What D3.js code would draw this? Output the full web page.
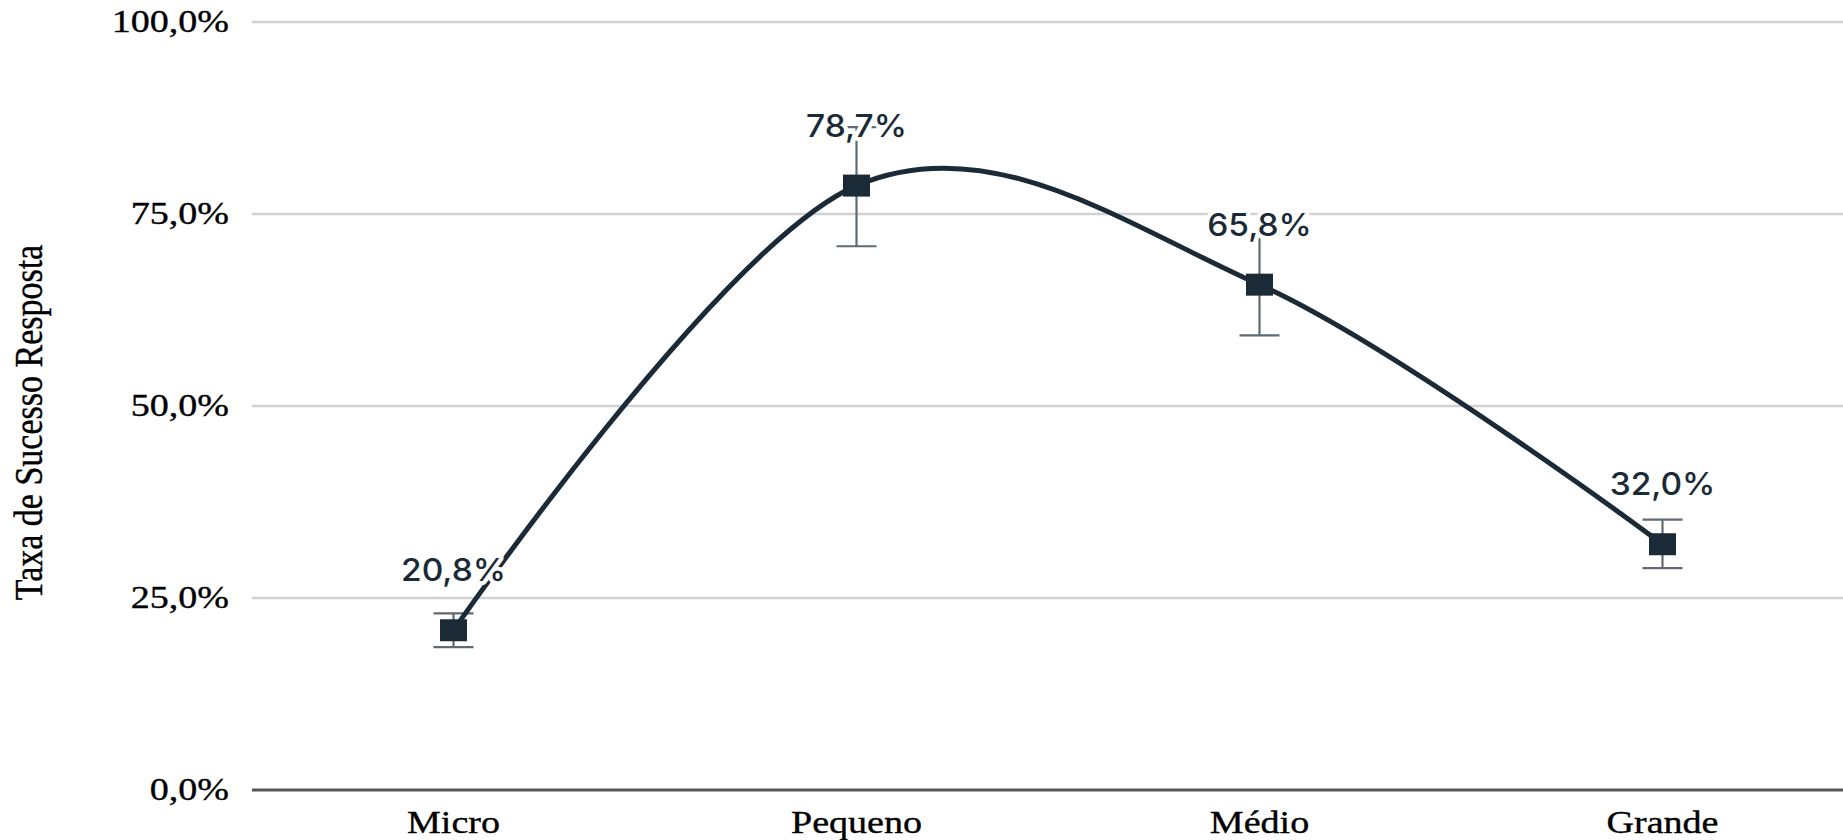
<!DOCTYPE html>
<html lang="pt">
<head>
  <meta charset="UTF-8">
  <title>Taxa de Sucesso Resposta</title>
  <script src="https://cdn.jsdelivr.net/npm/d3@7"></script>
  <style>
    html, body {
      margin: 0;
      padding: 0;
      background: #fff;
    }
    svg {
      display: block;
    }
    .serif {
      font-family: "Liberation Serif", serif;
      fill: #000;
      stroke: #000;
      stroke-width: 0.35px;
    }
  </style>
</head>
<body>
<svg id="chart"></svg>
<script>
  // dados
  const categories = ['Micro', 'Pequeno', 'Médio', 'Grande'];
  const values = [0.208, 0.787, 0.658, 0.320];
  const errLow = [0.186, 0.708, 0.592, 0.289];
  const errHigh = [0.230, 0.863, 0.724, 0.352];
  const yTicks = [0, 0.25, 0.5, 0.75, 1];

  const width = 1843, height = 840;
  const plotLeft = 252, plotRight = 1864, plotTop = 22, plotBottom = 790;
  const stretch = 1.19; // o original está esticado na horizontal

  const svg = d3.select('#chart')
    .attr('width', width)
    .attr('height', height);

  const x = d3.scalePoint()
    .domain(categories)
    .range([plotLeft, plotRight])
    .padding(0.5);

  const y = d3.scaleLinear()
    .domain([0, 1])
    .range([plotBottom, plotTop]);

  const fmt = v => d3.format('.1f')(v * 100).replace('.', ',') + '%';

  const data = categories.map((c, i) => ({
    cat: c, v: values[i], lo: errLow[i], hi: errHigh[i]
  }));

  // grade
  svg.append('g')
    .selectAll('line')
    .data(yTicks.filter(d => d > 0))
    .join('line')
    .attr('x1', plotLeft)
    .attr('x2', width)
    .attr('y1', d => y(d))
    .attr('y2', d => y(d))
    .attr('stroke', '#d2d2d2')
    .attr('stroke-width', 2.5);

  svg.append('line')
    .attr('x1', plotLeft)
    .attr('x2', width)
    .attr('y1', y(0))
    .attr('y2', y(0))
    .attr('stroke', '#555')
    .attr('stroke-width', 3);

  // rótulos do eixo y
  svg.append('g')
    .selectAll('text')
    .data(yTicks)
    .join('text')
    .attr('class', 'serif')
    .attr('transform', d => `translate(229,${y(d)}) scale(${stretch},1)`)
    .attr('dy', '0.32em')
    .attr('text-anchor', 'end')
    .style('font-size', '32px')
    .text(fmt);

  // rótulos do eixo x
  svg.append('g')
    .selectAll('text')
    .data(categories)
    .join('text')
    .attr('class', 'serif')
    .attr('transform', d => `translate(${x(d)},833) scale(${stretch},1)`)
    .attr('text-anchor', 'middle')
    .style('font-size', '32px')
    .text(d => d);

  // título do eixo y
  svg.append('text')
    .attr('class', 'serif')
    .attr('transform', `translate(42,${(248 + 597) / 2}) rotate(-90) scale(1,${stretch})`)
    .attr('text-anchor', 'middle')
    .style('font-size', '34px')
    .text('Taxa de Sucesso Resposta');

  // barras de erro
  const err = svg.append('g')
    .attr('stroke', '#5f6a71')
    .attr('stroke-width', 2.2);

  err.selectAll('.stem')
    .data(data)
    .join('line')
    .attr('class', 'stem')
    .attr('x1', d => x(d.cat))
    .attr('x2', d => x(d.cat))
    .attr('y1', d => y(d.lo))
    .attr('y2', d => y(d.hi));

  err.selectAll('.cap')
    .data(data.flatMap(d => [{cat: d.cat, v: d.lo}, {cat: d.cat, v: d.hi}]))
    .join('line')
    .attr('class', 'cap')
    .attr('x1', d => x(d.cat) - 20)
    .attr('x2', d => x(d.cat) + 20)
    .attr('y1', d => y(d.v))
    .attr('y2', d => y(d.v));

  // linha suavizada
  const line = d3.line()
    .x(d => x(d.cat))
    .y(d => y(d.v))
    .curve(d3.curveCardinal.tension(0));

  svg.append('path')
    .datum(data)
    .attr('d', line)
    .attr('fill', 'none')
    .attr('stroke', '#1a2a37')
    .attr('stroke-width', 5)
    .attr('stroke-linecap', 'round');

  // marcadores
  svg.append('g')
    .selectAll('rect')
    .data(data)
    .join('rect')
    .attr('x', d => x(d.cat) - 13.5)
    .attr('y', d => y(d.v) - 11)
    .attr('width', 27)
    .attr('height', 22)
    .attr('fill', '#1a2a37');

  // rótulos de dados
  svg.append('g')
    .selectAll('text')
    .data(data)
    .join('text')
    .attr('transform', d => `translate(${x(d.cat)},${y(d.v) - 49}) scale(1.08,1)`)
    .attr('text-anchor', 'middle')
    .style('font-family', 'Inter, "Noto Sans", sans-serif')
    .style('font-size', '31px')
    .style('font-weight', 500)
    .attr('fill', '#1a2a37')
    .attr('stroke', '#fff')
    .attr('stroke-width', 8)
    .attr('stroke-linejoin', 'round')
    .attr('paint-order', 'stroke')
    .text(d => fmt(d.v));
</script>
</body>
</html>
